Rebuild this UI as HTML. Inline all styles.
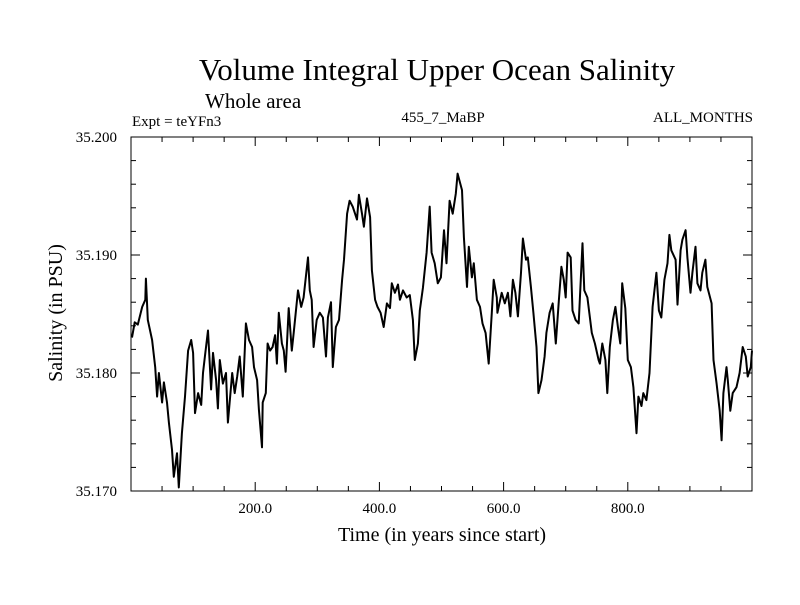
<!DOCTYPE html>
<html><head><meta charset="utf-8"><style>
body{margin:0;background:#fff}
svg text{font-family:"Liberation Serif",serif;fill:#000}
</style></head><body>
<svg id="chart" width="800" height="600" viewBox="0 0 800 600">
<text x="437" y="80" font-size="31" text-anchor="middle">Volume Integral Upper Ocean Salinity</text>
<text x="205" y="108" font-size="21">Whole area</text>
<text x="132" y="126" font-size="15">Expt = teYFn3</text>
<text x="443" y="122" font-size="15" text-anchor="middle">455_7_MaBP</text>
<text x="753" y="122" font-size="15" text-anchor="end">ALL_MONTHS</text>
<text x="442" y="541" font-size="20" text-anchor="middle">Time (in years since start)</text>
<text transform="translate(62,313) rotate(-90)" font-size="20" text-anchor="middle">Salinity (in PSU)</text>
<g id="axes"></g>
<path id="series" fill="none" stroke="#000" stroke-width="2" stroke-linejoin="round"/>
<rect x="131" y="137" width="621" height="354" fill="none" stroke="#000" stroke-width="1"/>
</svg>
<script>
const years=[1.6,6,11,18,23,24,27,34,39,42,45,50,53,58,61,66,69,74,77,82,87,92,97,100,103,108,113,116,119,124,129,132,137,140,143,148,153,156,163,167,171,175,180,185,190,195,198,203,206,211,212,217,220,224,228,232,235,238,243,246,249,254,259,262,269,274,278,285,288,291,294,299,304,309,314,317,322,325,330,335,340,343,348,352,357,364,367,372,375,380,385,388,393,397,402,407,412,417,420,425,430,433,438,444,449,454,457,462,465,470,476,481,484,489,494,499,504,508,513,518,523,526,533,536,541,544,549,552,557,562,566,571,576,581,584,589,590,597,602,607,611,615,619,623,628,631,636,639,644,648,653,656,661,666,669,674,679,684,689,693,697,700,703,708,711,716,721,727,730,735,742,747,753,755,759,764,767,771,776,780,784,788,791,796,800,805,809,814,817,822,825,830,835,840,846,850,854,859,864,867,870,877,880,885,888,893,896,901,904,909,912,917,920,925,928,935,938,943,948,951,954,959,961,965,969,975,980,985,990,993,998,1000];
const salinity=[35.1830,35.1843,35.1841,35.1856,35.1862,35.1880,35.1845,35.1828,35.1805,35.1780,35.1800,35.1775,35.1792,35.1775,35.1758,35.1735,35.1712,35.1732,35.1703,35.1749,35.1780,35.1819,35.1828,35.1817,35.1766,35.1783,35.1773,35.1800,35.1814,35.1836,35.1786,35.1817,35.1794,35.1770,35.1811,35.1791,35.1800,35.1758,35.1800,35.1783,35.1797,35.1814,35.1780,35.1842,35.1828,35.1822,35.1805,35.1794,35.1769,35.1737,35.1775,35.1783,35.1825,35.1819,35.1822,35.1832,35.1808,35.1851,35.1825,35.1819,35.1801,35.1855,35.1819,35.1834,35.1870,35.1856,35.1864,35.1898,35.1870,35.1862,35.1822,35.1845,35.1851,35.1847,35.1814,35.1847,35.1860,35.1805,35.1839,35.1845,35.1879,35.1896,35.1935,35.1946,35.1941,35.1930,35.1951,35.1935,35.1924,35.1948,35.1932,35.1887,35.1862,35.1856,35.1851,35.1839,35.1859,35.1855,35.1876,35.1868,35.1875,35.1862,35.1870,35.1864,35.1866,35.1845,35.1811,35.1825,35.1853,35.1872,35.1902,35.1941,35.1902,35.1893,35.1876,35.1881,35.1921,35.1893,35.1946,35.1935,35.1952,35.1969,35.1955,35.1915,35.1873,35.1907,35.1881,35.1893,35.1862,35.1856,35.1842,35.1834,35.1808,35.1851,35.1879,35.1864,35.1851,35.1868,35.1859,35.1868,35.1848,35.1879,35.1868,35.1848,35.1885,35.1914,35.1896,35.1898,35.1873,35.1851,35.1822,35.1783,35.1794,35.1814,35.1834,35.1851,35.1859,35.1825,35.1862,35.1890,35.1879,35.1864,35.1902,35.1898,35.1853,35.1845,35.1842,35.1910,35.1870,35.1864,35.1834,35.1825,35.1811,35.1808,35.1825,35.1811,35.1783,35.1822,35.1845,35.1856,35.1839,35.1825,35.1876,35.1855,35.1811,35.1805,35.1788,35.1749,35.1780,35.1772,35.1783,35.1777,35.1800,35.1856,35.1885,35.1853,35.1847,35.1879,35.1893,35.1917,35.1904,35.1896,35.1858,35.1904,35.1913,35.1921,35.1898,35.1868,35.1885,35.1907,35.1876,35.1870,35.1885,35.1896,35.1873,35.1859,35.1811,35.1791,35.1768,35.1743,35.1783,35.1805,35.1794,35.1768,35.1783,35.1788,35.1800,35.1822,35.1814,35.1797,35.1805,35.1819];
const xTickValues=[200,400,600,800];
const xTickLabels=["200.0","400.0","600.0","800.0"];
const yTickValues=[35.170,35.180,35.190,35.200];
const yTickLabels=["35.170","35.180","35.190","35.200"];
const X0=131,X1=752,Y0=491,Y1=137,XMIN=0,XMAX=1000,YMIN=35.170,YMAX=35.200;
function sx(v){return X0+(v-XMIN)/(XMAX-XMIN)*(X1-X0);}
function sy(v){return Y0-(v-YMIN)/(YMAX-YMIN)*(Y0-Y1);}
const NS="http://www.w3.org/2000/svg";
const g=document.getElementById('axes');
function line(x1,y1,x2,y2,name){const l=document.createElementNS(NS,'line');
l.setAttribute('x1',x1);l.setAttribute('y1',y1);l.setAttribute('x2',x2);l.setAttribute('y2',y2);
l.setAttribute('stroke','#000');l.setAttribute('stroke-width','1');


g.appendChild(l);}
function text(x,y,s,anchor,name){const t=document.createElementNS(NS,'text');
t.setAttribute('x',x);t.setAttribute('y',y);t.setAttribute('font-size','15');t.setAttribute('text-anchor',anchor);t.textContent=s;


g.appendChild(t);}
for(let v=50;v<1000;v+=50){const major=v%200===0;const L=major?9:5;const x=sx(v);
line(x,Y0,x,Y0-L,'x-tick');line(x,Y1,x,Y1+L,'x-tick-top');}
for(let k=1;k<15;k++){const v=YMIN+k*0.002;const major=k%5===0;const L=major?9:5;const y=sy(v);
line(X0,y,X0+L,y,'y-tick');line(X1,y,X1-L,y,'y-tick-right');}
xTickValues.forEach((v,i)=>text(sx(v),Y0+22,xTickLabels[i],'middle','x-tick-label'));
yTickValues.forEach((v,i)=>text(X0-14,sy(v)+5,yTickLabels[i],'end','y-tick-label'));
let d='';years.forEach((yr,i)=>{d+=(i?'L':'M')+sx(yr).toFixed(1)+','+sy(salinity[i]).toFixed(1);});
document.getElementById('series').setAttribute('d',d);
</script>
</body></html>
